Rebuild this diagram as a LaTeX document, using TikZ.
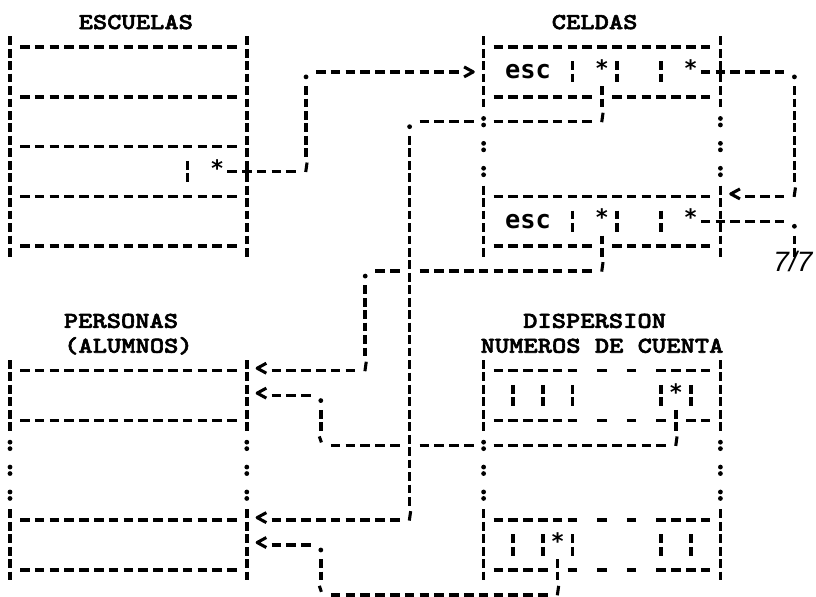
\documentclass[tikz,border=0pt]{standalone}
\usepackage{fontspec}
\newfontfamily\typefont[FakeStretch=1.2, FakeBold=2.5]{lmmonolt10-bold.otf}
\newfontfamily\cellfont{DejaVu Sans Mono}
\newfontfamily\pagefont{Liberation Sans}
\begin{document}
\begin{tikzpicture}[x=11.1pt, y=-18.675pt, line join=round,
    hl/.style={line width=2.6pt, dash pattern=on 7.1pt off 4pt},
    vl/.style={line width=2.6pt, dash pattern=on 6.6pt off 2.74pt},
    blob/.style={circle, fill, inner sep=0pt, minimum size=3.6pt},
    ttl/.style={inner sep=0pt, font=\typefont\fontsize{17}{18}\selectfont},
    cell/.style={inner sep=0pt, font=\cellfont\bfseries\fontsize{19}{19}\selectfont},
    ast/.style={inner sep=0pt, font=\cellfont\bfseries\fontsize{17}{17}\selectfont},
    pics/apos/.style={code={\draw[line width=2.3pt] (0.07,-0.36) -- (-0.02,0.02);}},
    pics/btick/.style={code={\draw[line width=2.3pt] (-0.1,-0.36) -- (0.04,-0.12);}},
    pics/larr/.style={code={\draw[line width=2.3pt] (0.32,-0.3) -- (-0.3,-0.1) -- (0.32,0.1);}},
    pics/rarr/.style={code={\draw[line width=2.3pt] (-0.32,-0.2) -- (0.3,0) -- (-0.32,0.2);}}]

  \useasboundingbox (-0.676,-1.888) rectangle (54.459,22.048);

  % ESCUELAS
  \node[ttl] (escuelas) at (8.5,-1) {ESCUELAS};
  \draw[vl] (0,-0.43) -- (0,8.43);
  \draw[vl] (16,-0.43) -- (16,8.43);
  \foreach \r in {0,2,4,6,8}
    \draw[hl] (0.68,\r) -- (15.32,\r);
  \draw[vl] (12,4.57) -- (12,5.43);
  \node[ast] (escptr) at (14,4.85) {*};

  % ESCUELAS -> CELDAS
  \draw[hl] (14.68,5) -- (19.32,5);
  \pic at (20,5) {apos};
  \draw[vl] (20,1.57) -- (20,4.43);
  \node[blob] (escturn) at (20,1.2) {};
  \draw[hl] (20.68,1) -- (30.32,1);
  \pic at (31,1) {rarr};

  % CELDAS
  \node[ttl] (celdas) at (39.5,-1) {CELDAS};
  \foreach \c in {32,48} {
    \draw[vl] (\c,-0.43) -- (\c,2.43);
    \draw[vl] (\c,5.57) -- (\c,8.43);
    \foreach \r in {3,4,5} {
      \node[blob] (up\c\r) at (\c,\r-0.13) {};
      \node[blob] (lo\c\r) at (\c,\r+0.13) {};
    }
  }
  \draw[hl] (32.68,0) -- (47.32,0);
  \draw[hl] (32.68,6) -- (47.32,6);
  \foreach \r in {2,8} {
    \draw[hl] (32.68,\r) -- (39.32,\r);
    \draw[hl] (40.68,\r) -- (47.32,\r);
    \draw[vl] (40,\r-0.43) -- (40,\r+0.43);
  }
  \foreach \r in {1,7} {
    \node[cell] (esc\r) at (35,\r) {esc};
    \foreach \c in {38,41,44}
      \draw[vl] (\c,\r-0.43) -- (\c,\r+0.43);
    \node[ast] (down\r) at (40,\r-0.15) {*};
    \node[ast] (next\r) at (46,\r-0.15) {*};
    \draw[hl] (46.68,\r) -- (52.32,\r);
    \node[blob] (nturn\r) at (53,\r+0.2) {};
  }
  \pic at (40,3) {apos};
  \pic at (40,9) {apos};

  % CELDAS -> CELDAS
  \draw[vl] (53,1.57) -- (53,5.43);
  \pic at (53,6) {apos};
  \draw[hl] (49.68,6) -- (52.32,6);
  \pic at (49,6) {larr};
  \draw[vl] (53,7.57) -- (53,8.43);
  \node[inner sep=0pt, font=\pagefont\itshape\fontsize{21}{21}\selectfont] (pagenum) at (52.9,8.63) {7/7};

  % CELDAS -> PERSONAS
  \draw[hl] (32.68,3) -- (39.32,3);
  \draw[hl] (27.68,3) -- (31.32,3);
  \node[blob] (cturnA) at (27,3.2) {};
  \draw[vl] (27,3.57) -- (27,18.43);
  \pic at (27,19) {apos};
  \draw[hl] (17.68,19) -- (26.32,19);
  \pic at (17,19) {larr};

  \draw[hl] (27.68,9) -- (39.32,9);
  \draw[hl] (24.68,9) -- (26.32,9);
  \node[blob] (cturnB) at (24,9.2) {};
  \draw[vl] (24,9.57) -- (24,12.43);
  \pic at (24,13) {apos};
  \draw[hl] (17.68,13) -- (23.32,13);
  \pic at (17,13) {larr};

  % PERSONAS and DISPERSION frames
  \node[ttl] (personas) at (7.5,11) {PERSONAS};
  \node[ttl] (alumnos) at (8,12) {(ALUMNOS)};
  \node[ttl] (dispersion) at (39.5,11) {DISPERSION};
  \node[ttl] (numeros) at (40,12) {NUMEROS DE CUENTA};
  \foreach \c in {0,16,32,48} {
    \draw[vl] (\c,12.57) -- (\c,15.43);
    \draw[vl] (\c,18.57) -- (\c,21.43);
    \foreach \r in {16,17,18} {
      \node[blob] (up\c\r) at (\c,\r-0.13) {};
      \node[blob] (lo\c\r) at (\c,\r+0.13) {};
    }
  }
  \foreach \r in {13,15,19,21}
    \draw[hl] (0.68,\r) -- (15.32,\r);

  % DISPERSION cells
  \foreach \r in {13,19} {
    \draw[hl] (32.68,\r) -- (38.32,\r);
    \draw[hl] (39.68,\r) -- (40.32,\r);
    \draw[hl] (41.68,\r) -- (42.32,\r);
    \draw[hl] (43.68,\r) -- (47.32,\r);
  }
  \foreach \r in {14,20}
    \foreach \c in {34,36,38,44,46}
      \draw[vl] (\c,\r-0.43) -- (\c,\r+0.43);
  \node[ast] (hashA) at (45,13.85) {*};
  \node[ast] (hashB) at (37,19.85) {*};

  \draw[hl] (32.68,15) -- (38.32,15);
  \draw[hl] (39.68,15) -- (40.32,15);
  \draw[hl] (41.68,15) -- (42.32,15);
  \draw[hl] (43.68,15) -- (44.32,15);
  \draw[vl] (45,14.57) -- (45,15.43);
  \draw[hl] (45.68,15) -- (47.32,15);

  \draw[hl] (32.68,21) -- (36.32,21);
  \draw[vl] (37,20.57) -- (37,21.43);
  \draw[hl] (37.68,21) -- (38.32,21);
  \draw[hl] (39.68,21) -- (40.32,21);
  \draw[hl] (41.68,21) -- (42.32,21);
  \draw[hl] (43.68,21) -- (47.32,21);

  % DISPERSION -> PERSONAS
  \pic at (45,16) {apos};
  \draw[hl] (32.68,16) -- (44.32,16);
  \draw[hl] (27.68,16) -- (31.32,16);
  \draw[hl] (21.68,16) -- (26.32,16);
  \pic at (21,16) {btick};
  \draw[vl] (21,14.57) -- (21,15.43);
  \node[blob] (hturnA) at (21,14.2) {};
  \draw[hl] (17.68,14) -- (20.32,14);
  \pic at (17,14) {larr};

  \pic at (37,22) {apos};
  \draw[hl] (21.68,22) -- (36.32,22);
  \pic at (21,22) {btick};
  \draw[vl] (21,20.57) -- (21,21.43);
  \node[blob] (hturnB) at (21,20.2) {};
  \draw[hl] (17.68,20) -- (20.32,20);
  \pic at (17,20) {larr};
\end{tikzpicture}
\end{document}
